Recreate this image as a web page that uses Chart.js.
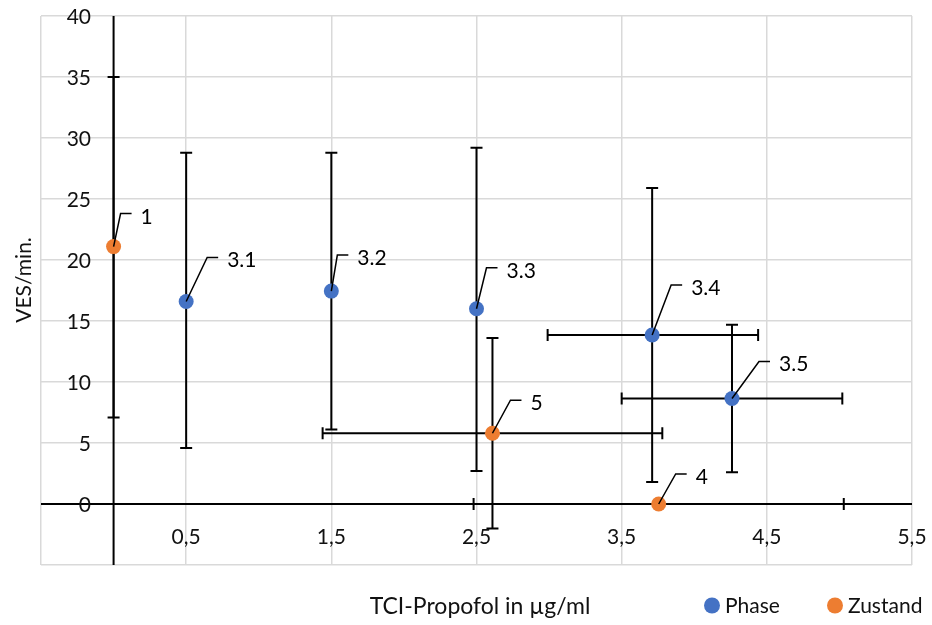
<!DOCTYPE html>
<html>
<head>
<meta charset="utf-8">
<script src="https://cdn.jsdelivr.net/npm/chart.js@4.4.1/dist/chart.umd.min.js"></script>
<style>
  html, body { margin: 0; padding: 0; background: #fff; }
  #wrap { width: 932px; height: 625px; }
</style>
</head>
<body>
<div id="wrap"><canvas id="chart" width="932" height="625"></canvas></div>
<script>
// Phase series (blue)
var phaseLabels = ['3.1', '3.2', '3.3', '3.4', '3.5'];
var phaseX      = [0.5, 1.5, 2.5, 3.71, 4.26];
var phaseY      = [16.6, 17.45, 16.0, 13.85, 8.65];
var phaseYMin   = [4.6, 6.1, 2.7, 1.8, 2.6];
var phaseYMax   = [28.8, 28.8, 29.2, 25.9, 14.7];
var phaseXMin   = [null, null, null, 2.99, 3.5];
var phaseXMax   = [null, null, null, 4.44, 5.02];

// Zustand series (orange)
var zustandLabels = ['1', '5', '4'];
var zustandX      = [0, 2.61, 3.755];
var zustandY      = [21.1, 5.8, 0];
var zustandYMin   = [7.1, -2.0, null];
var zustandYMax   = [35.0, 13.6, null];
var zustandXMin   = [null, 1.44, 2.48];
var zustandXMax   = [null, 3.78, 5.03];

// axis ticks
var xTickValues = [-0.5, 0.5, 1.5, 2.5, 3.5, 4.5, 5.5];
var xTickShown  = [0.5, 1.5, 2.5, 3.5, 4.5, 5.5];
var yTickShown  = [0, 5, 10, 15, 20, 25, 30, 35, 40];

// leader line elbows for the data labels (pixels from the point)
var phaseLabelOffsets   = [[21, -44], [6, -36], [10, -41], [19, -50], [27, -37]];
var zustandLabelOffsets = [[7, -33], [18, -33], [17, -30]];

var BLUE = '#4472C4';
var ORANGE = '#ED7D31';
var FONT = 'Lato, "Open Sans", sans-serif';

function pts(xs, ys) {
    return xs.map(function (x, i) { return { x: x, y: ys[i] }; });
}
function fmt(v) {
    return String(v).replace('.', ',');
}

var errorBars = [
    { xMin: phaseXMin, xMax: phaseXMax, yMin: phaseYMin, yMax: phaseYMax },
    { xMin: zustandXMin, xMax: zustandXMax, yMin: zustandYMin, yMax: zustandYMax }
];
var dataLabels = [
    { text: phaseLabels, off: phaseLabelOffsets },
    { text: zustandLabels, off: zustandLabelOffsets }
];

var extras = {
    id: 'extras',
    beforeDatasetsDraw: function (chart) {
        var ctx = chart.ctx, xs = chart.scales.x, ys = chart.scales.y, a = chart.chartArea;
        ctx.save();
        // axis lines crossing at 0
        ctx.strokeStyle = '#000';
        ctx.lineWidth = 2;
        ctx.beginPath();
        var y0 = ys.getPixelForValue(0), x0 = xs.getPixelForValue(0);
        ctx.moveTo(a.left, y0); ctx.lineTo(a.right, y0);
        ctx.moveTo(x0, a.top); ctx.lineTo(x0, a.bottom);
        ctx.stroke();
        // error bars
        var cap = 6;
        errorBars.forEach(function (eb, d) {
            var meta = chart.getDatasetMeta(d);
            meta.data.forEach(function (el, i) {
                var px = el.x, py = el.y;
                ctx.beginPath();
                if (eb.yMin[i] !== null) {
                    var t = ys.getPixelForValue(eb.yMax[i]), b = ys.getPixelForValue(eb.yMin[i]);
                    ctx.moveTo(px, t); ctx.lineTo(px, b);
                    ctx.moveTo(px - cap, t); ctx.lineTo(px + cap, t);
                    ctx.moveTo(px - cap, b); ctx.lineTo(px + cap, b);
                }
                if (eb.xMin[i] !== null) {
                    var l = xs.getPixelForValue(eb.xMin[i]), r = xs.getPixelForValue(eb.xMax[i]);
                    ctx.moveTo(l, py); ctx.lineTo(r, py);
                    ctx.moveTo(l, py - cap); ctx.lineTo(l, py + cap);
                    ctx.moveTo(r, py - cap); ctx.lineTo(r, py + cap);
                }
                ctx.stroke();
            });
        });
        ctx.restore();
    },
    afterDatasetsDraw: function (chart) {
        var ctx = chart.ctx;
        ctx.save();
        ctx.strokeStyle = '#000';
        ctx.lineWidth = 1.5;
        ctx.fillStyle = '#000';
        ctx.font = '21px ' + FONT;
        ctx.textAlign = 'left';
        ctx.textBaseline = 'alphabetic';
        dataLabels.forEach(function (dl, d) {
            var meta = chart.getDatasetMeta(d);
            meta.data.forEach(function (el, i) {
                var ex = el.x + dl.off[i][0], ey = el.y + dl.off[i][1];
                ctx.beginPath();
                ctx.moveTo(el.x, el.y);
                ctx.lineTo(ex, ey);
                ctx.lineTo(ex + 11, ey);
                ctx.stroke();
                ctx.fillText(dl.text[i], ex + 20, ey + 10);
            });
        });
        ctx.restore();
    },
    afterDraw: function (chart) {
        var ctx = chart.ctx, xs = chart.scales.x, ys = chart.scales.y;
        ctx.save();
        ctx.fillStyle = '#111';
        ctx.font = '21px ' + FONT;
        ctx.textBaseline = 'alphabetic';
        // y tick labels, next to the axis
        ctx.textAlign = 'right';
        yTickShown.forEach(function (v) {
            ctx.fillText(String(v), 91, ys.getPixelForValue(v) + 7.5);
        });
        // x tick labels
        ctx.textAlign = 'center';
        xTickShown.forEach(function (v) {
            ctx.fillText(fmt(v), xs.getPixelForValue(v), 544);
        });
        // axis titles
        ctx.font = '23px ' + FONT;
        ctx.fillText('TCI-Propofol in µg/ml', 480, 614);
        ctx.save();
        ctx.translate(31, 280);
        ctx.rotate(-Math.PI / 2);
        ctx.font = '21px ' + FONT;
        ctx.fillText('VES/min.', 0, 0);
        ctx.restore();
        // legend
        var items = [
            { label: chart.data.datasets[0].label, color: BLUE, x: 712 },
            { label: chart.data.datasets[1].label, color: ORANGE, x: 835 }
        ];
        ctx.font = '21px ' + FONT;
        ctx.textAlign = 'left';
        items.forEach(function (it) {
            ctx.fillStyle = it.color;
            ctx.beginPath();
            ctx.arc(it.x, 605.5, 8, 0, Math.PI * 2);
            ctx.fill();
            ctx.fillStyle = '#111';
            ctx.fillText(it.label, it.x + 13, 613);
        });
        ctx.restore();
    }
};

new Chart(document.getElementById('chart'), {
    type: 'scatter',
    data: {
        datasets: [
            {
                label: 'Phase',
                data: pts(phaseX, phaseY),
                backgroundColor: BLUE,
                borderWidth: 0,
                pointRadius: 7.5,
                pointHoverRadius: 7.5
            },
            {
                label: 'Zustand',
                data: pts(zustandX, zustandY),
                backgroundColor: ORANGE,
                borderWidth: 0,
                pointRadius: 7.5,
                pointHoverRadius: 7.5
            }
        ]
    },
    options: {
        responsive: false,
        animation: false,
        layout: { padding: { left: 0, top: 16, right: 20, bottom: 0 } },
        plugins: {
            legend: { display: false },
            tooltip: { enabled: false }
        },
        scales: {
            x: {
                type: 'linear',
                min: -0.5,
                max: 5.5,
                afterBuildTicks: function (scale) {
                    scale.ticks = xTickValues.map(function (v) { return { value: v }; });
                },
                afterFit: function (scale) { scale.height = 60; },
                ticks: { display: false },
                grid: { color: '#d9d9d9', lineWidth: 1.5, drawTicks: false },
                border: { display: false }
            },
            y: {
                type: 'linear',
                min: -5,
                max: 40,
                ticks: { display: false, stepSize: 5 },
                afterFit: function (scale) { scale.width = 41; },
                grid: {
                    color: function (c) { return c.tick && c.tick.value === 0 ? 'rgba(0,0,0,0)' : '#d9d9d9'; },
                    lineWidth: 1.5,
                    drawTicks: false
                },
                border: { display: false }
            }
        }
    },
    plugins: [extras]
});
</script>
</body>
</html>
